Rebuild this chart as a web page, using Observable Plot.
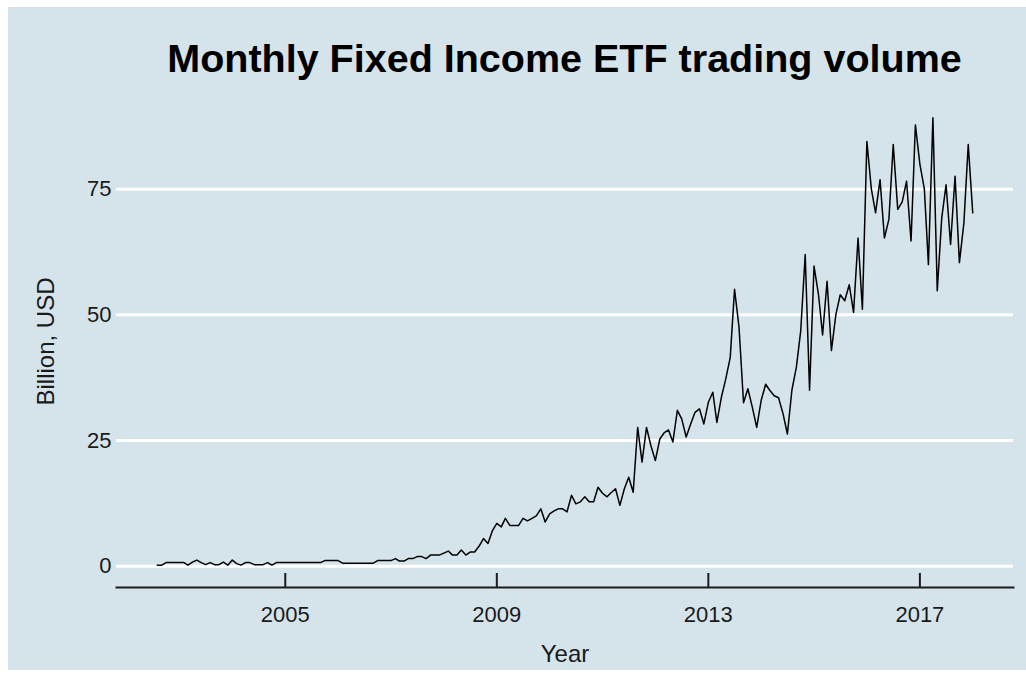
<!DOCTYPE html>
<html><head><meta charset="utf-8">
<script src="https://cdn.jsdelivr.net/npm/d3@7"></script>
<script src="https://cdn.jsdelivr.net/npm/@observablehq/plot@0.6"></script>
<style>
html,body{margin:0;padding:0;background:#fff;width:1026px;height:680px;overflow:hidden;font-family:"Liberation Sans",Arial,sans-serif;}
#bg{position:absolute;left:8px;top:7px;width:1018px;height:663px;background:#d5e4eb;}
#title{position:absolute;left:116px;width:897px;top:39px;text-align:center;font-weight:bold;font-size:39.5px;line-height:39px;color:#000;white-space:nowrap;}
#chart{position:absolute;left:0;top:90px;}
</style></head><body>
<div id="bg"></div>
<div id="title">Monthly Fixed Income ETF trading volume</div>
<div id="chart"></div>
<script>
// Monthly series, starting August 2002 (billion USD)
const startYear = 2002, startMonth = 7; // August (0-based)
const volume = [
  0.2,0.2,0.7,0.7,0.7,0.7,0.7,0.2,0.8,1.2,
  0.7,0.3,0.7,0.3,0.3,0.8,0.2,1.2,0.5,0.2,
  0.7,0.7,0.3,0.3,0.3,0.7,0.2,0.7,0.7,0.7,
  0.7,0.7,0.7,0.7,0.7,0.7,0.7,0.7,1.1,1.1,
  1.1,1.1,0.6,0.6,0.6,0.6,0.6,0.6,0.6,0.6,
  1.1,1.1,1.1,1.1,1.5,1.0,1.0,1.5,1.5,1.9,
  1.9,1.5,2.2,2.2,2.2,2.6,3.0,2.2,2.2,3.2,
  2.2,2.8,2.8,4.0,5.5,4.5,7.0,8.5,7.8,9.5,
  8.1,8.1,8.1,9.5,9.0,9.5,10.0,11.4,8.8,10.4,
  11.0,11.4,11.4,10.8,14.1,12.4,12.8,13.8,12.8,12.8,
  15.7,14.5,13.8,14.6,15.4,12.1,15.4,17.7,14.7,27.6,
  20.7,27.6,24.0,21.0,25.3,26.5,27.1,24.7,31.0,29.3,
  25.7,28.3,30.6,31.3,28.3,32.6,34.6,28.6,33.6,37.2,
  41.5,55.1,47.5,32.5,35.3,31.6,27.6,33.0,36.2,35.0,
  33.9,33.5,30.3,26.3,35.0,39.6,46.8,62.0,35.0,59.7,
  54.0,46.0,56.7,42.9,50.1,54.0,52.8,56.0,50.5,65.3,
  51.1,84.5,75.0,70.3,76.9,65.3,69.0,83.9,71.0,72.5,
  76.6,64.7,87.8,80.0,75.0,60.0,89.2,54.8,69.3,75.9,
  64.0,77.6,60.4,68.3,83.9,70.3
];
const xTickYears = [2005, 2009, 2013, 2017];
const yTicks = [0, 25, 50, 75];

const start = new Date(Date.UTC(startYear, startMonth, 1));
const data = volume.map((v, i) => ({date: d3.utcMonth.offset(start, i), value: v}));
const tickDates = xTickYears.map(y => new Date(Date.UTC(y, 0, 1)));

// ggplot-style 5% expansion
const t0 = +data[0].date, t1 = +data[data.length - 1].date;
const xPad = 0.05 * (t1 - t0);
const vMin = d3.min(volume), vMax = d3.max(volume);
const yPad = 0.05 * (vMax - vMin);

const W = 1026, H = 580, mL = 116, mR = 13, mT = 5, mB = 83;
const panelH = H - mT - mB;
const ink = "#1a1a1a";

const chart = Plot.plot({
  width: W, height: H,
  marginLeft: mL, marginRight: mR, marginTop: mT, marginBottom: mB,
  style: {background: "transparent", fontFamily: "Liberation Sans, Arial, sans-serif", overflow: "visible"},
  x: {type: "utc", domain: [new Date(t0 - xPad), new Date(t1 + xPad)]},
  y: {domain: [vMin - yPad, vMax + yPad]},
  marks: [
    Plot.gridY({ticks: yTicks, stroke: "#ffffff", strokeOpacity: 1, strokeWidth: 3}),
    Plot.frame({anchor: "bottom", stroke: ink, strokeWidth: 2}),
    Plot.tickX(tickDates, {x: d => d, stroke: ink, strokeWidth: 2, insetTop: panelH - 14}),
    Plot.line(data, {x: "date", y: "value", stroke: "#000", strokeWidth: 1.5}),
    Plot.axisX({ticks: tickDates, tickFormat: "%Y", tickSize: 0, tickPadding: 19, fontSize: 22, color: ink, label: null}),
    Plot.axisY({ticks: yTicks, tickSize: 0, tickPadding: 5, fontSize: 22, color: ink, label: null}),
    Plot.axisX({ticks: [], tickSize: 0, fontSize: 24, color: ink,
      label: "Year", labelArrow: "none", labelAnchor: "center", labelOffset: 74}),
    Plot.axisY({ticks: [], tickSize: 0, fontSize: 24, color: ink,
      label: "Billion, USD", labelArrow: "none", labelAnchor: "center", labelOffset: 80})
  ]
});
document.getElementById("chart").appendChild(chart);
</script>
</body></html>
